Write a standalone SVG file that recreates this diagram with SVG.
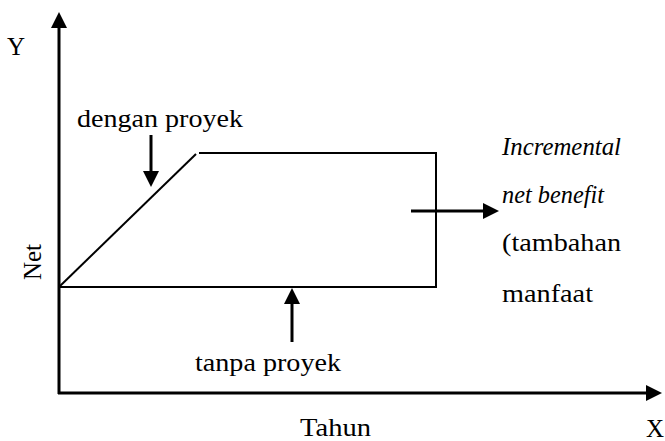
<svg xmlns="http://www.w3.org/2000/svg" width="665" height="441" viewBox="0 0 665 441">
  <style>
    .t { font-family: "Liberation Serif", "Times New Roman", serif; font-size: 25px; fill: #000; }
    .i { font-style: italic; }
    .box { stroke: #000; stroke-width: 2; fill: none; }
    .ax { stroke: #000; stroke-width: 3; fill: none; }
  </style>
  <defs>
    <marker id="ah" markerUnits="userSpaceOnUse" markerWidth="16" markerHeight="16" viewBox="0 0 16 16" refX="12" refY="8" orient="auto">
      <path d="M0,0 L16,8 L0,16 z" fill="#000"/>
    </marker>
  </defs>
  <rect width="665" height="441" fill="#fff"/>

  <g id="axes">
    <line class="ax" x1="59" y1="394" x2="59" y2="16" marker-end="url(#ah)"/>
    <line class="ax" x1="58" y1="393" x2="658" y2="393" marker-end="url(#ah)"/>
    <text class="t" x="7" y="55">Y</text>
    <text class="t" x="646" y="437">X</text>
    <text class="t" x="300" y="436" textLength="71" lengthAdjust="spacingAndGlyphs">Tahun</text>
    <text class="t" transform="translate(41,262) rotate(-90)" text-anchor="middle">Net</text>
  </g>

  <g id="dengan-proyek">
    <polyline class="box" points="59,287 196,154"/>
    <polyline class="box" points="199,153 436,153 436,287"/>
    <text class="t" x="77" y="127" textLength="166" lengthAdjust="spacingAndGlyphs">dengan proyek</text>
  </g>

  <g id="tanpa-proyek">
    <line class="box" x1="59" y1="287" x2="437" y2="287"/>
    <text class="t" x="195" y="371" textLength="146" lengthAdjust="spacingAndGlyphs">tanpa proyek</text>
  </g>

  <g id="incremental">
    <text class="t i" x="502" y="155" textLength="119" lengthAdjust="spacingAndGlyphs">Incremental</text>
    <text class="t i" x="502" y="203" textLength="102" lengthAdjust="spacingAndGlyphs">net benefit</text>
    <text class="t" x="502" y="251" textLength="119" lengthAdjust="spacingAndGlyphs">(tambahan</text>
    <text class="t" x="502" y="302" textLength="91" lengthAdjust="spacingAndGlyphs">manfaat</text>
  </g>

  <g id="connectors">
    <line class="ax" x1="151" y1="135" x2="151" y2="183" marker-end="url(#ah)"/>
    <line class="ax" x1="292" y1="342" x2="292" y2="292" marker-end="url(#ah)"/>
    <line class="ax" x1="411" y1="211" x2="495" y2="211" marker-end="url(#ah)"/>
  </g>
</svg>
